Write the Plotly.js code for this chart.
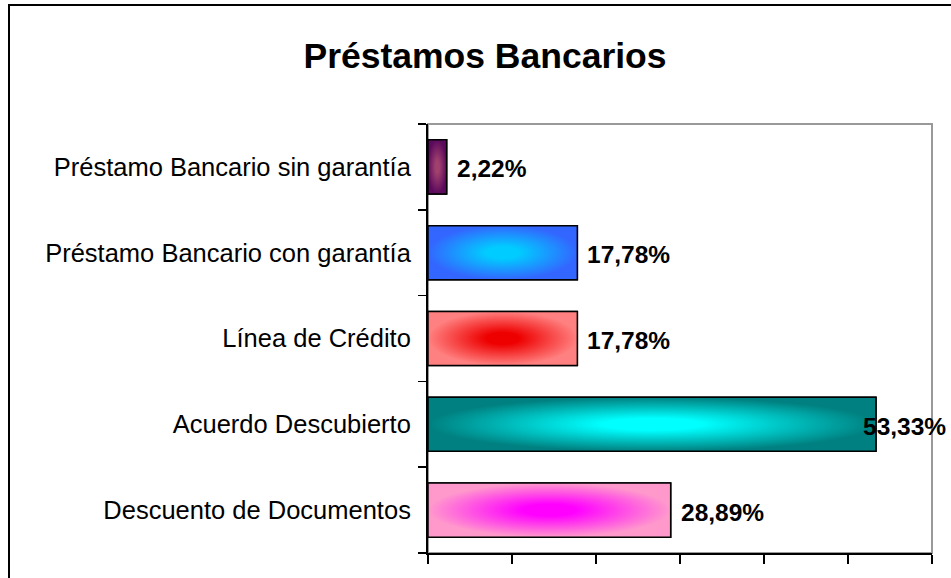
<!DOCTYPE html>
<html>
<head>
<meta charset="utf-8">
<script src="https://cdn.plot.ly/plotly-3.0.1.min.js"></script>
<style>
  html, body { margin: 0; padding: 0; background: #fff; overflow: hidden; }
  #chart { width: 951px; height: 578px; }
  #frame { position: absolute; left: 8px; top: 4px; width: 2000px; height: 2000px;
           border: 2px solid #000; pointer-events: none; }
</style>
</head>
<body>
<div id="chart"></div>
<div id="frame"></div>
<script>
// Categories listed bottom-to-top as drawn
const categories = [
  "Descuento de Documentos",
  "Acuerdo Descubierto",
  "Línea de Crédito",
  "Préstamo Bancario con garantía",
  "Préstamo Bancario sin garantía"
];
const values = [28.89, 53.33, 17.78, 17.78, 2.22];
const edgeColors = ["#ff99cc", "#008080", "#ff8080", "#3366ff", "#5c0a5c"];
const centerColors = ["#ff00ff", "#00ffff", "#ee0000", "#00ccff", "#a0406e"];
const xTickVals = [0, 10, 20, 30, 40, 50, 60];
const titleText = "Préstamos Bancarios";

const FONT = "Arial, 'Liberation Sans', sans-serif";
const BAR_W = 0.63;
const pos = categories.map((c, i) => i);
const bounds = [-0.5].concat(pos.map(p => p + 0.5));

const traces = [];
traces.push({
  type: "bar",
  orientation: "h",
  x: values,
  y: pos,
  width: BAR_W,
  marker: { color: edgeColors, line: { color: "#000", width: 1.5 } },
  hoverinfo: "skip",
  showlegend: false
});
// gradient overlays, drawn from the same values
values.forEach((v, i) => {
  const y0 = pos[i] - BAR_W / 2, y1 = pos[i] + BAR_W / 2;
  traces.push({
    type: "scatter",
    mode: "lines",
    x: [0, v, v, 0, 0],
    y: [y0, y0, y1, y1, y0],
    fill: "toself",
    fillgradient: { type: "radial",
      colorscale: [[0, centerColors[i]], [0.22, centerColors[i]], [1, edgeColors[i]]] },
    line: { color: "#000", width: 1.5 },
    hoverinfo: "skip",
    showlegend: false
  });
});

const annotations = values.map((v, i) => {
  const overflow = v > 50;
  return {
    x: v, y: pos[i], xref: "x", yref: "y",
    text: "<b>" + v.toFixed(2).replace(".", ",") + "%</b>",
    showarrow: false,
    xanchor: overflow ? "right" : "left",
    xshift: overflow ? 72 : 8,
    yshift: -2,
    font: { family: FONT, size: 24.5, color: "#000" }
  };
});

const layout = {
  width: 951, height: 578,
  margin: { l: 428, r: 19, t: 124, b: 25, pad: 0 },
  paper_bgcolor: "#fff", plot_bgcolor: "#fff",
  title: {
    text: "<b>" + titleText + "</b>",
    font: { family: FONT, size: 35.5, color: "#000" },
    x: 485 / 951, xref: "container", xanchor: "center",
    y: 1 - 56 / 578, yref: "container", yanchor: "middle"
  },
  xaxis: {
    range: [0, 60], tickmode: "array", tickvals: xTickVals,
    ticks: "outside", ticklen: 9, tickwidth: 1.5, tickcolor: "#000",
    showticklabels: false, showgrid: false, zeroline: false,
    showline: true, linecolor: "#000", linewidth: 2, fixedrange: true
  },
  yaxis: {
    range: [-0.5, categories.length - 0.5],
    tickmode: "array", tickvals: pos, ticktext: categories,
    ticks: "", ticklabelstandoff: 10,
    tickfont: { family: FONT, size: 25.5, color: "#000" },
    showgrid: false, zeroline: false,
    showline: true, linecolor: "#000", linewidth: 2,
    minor: { tickmode: "array", tickvals: bounds, ticks: "outside", ticklen: 8,
             tickwidth: 1.5, tickcolor: "#000", showgrid: false },
    fixedrange: true
  },
  shapes: [{
    type: "rect", xref: "paper", yref: "paper", x0: 0, x1: 1, y0: 0, y1: 1,
    line: { color: "#999", width: 2 }, layer: "below"
  }],
  annotations: annotations,
  showlegend: false
};

Plotly.newPlot("chart", traces, layout, { displayModeBar: false, staticPlot: true });
</script>
</body>
</html>
